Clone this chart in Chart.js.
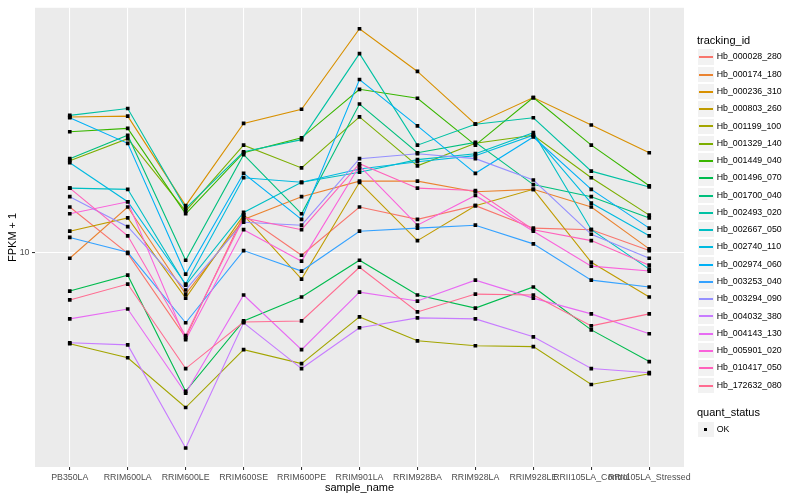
<!DOCTYPE html>
<html>
<head>
<meta charset="utf-8">
<script src="https://cdn.jsdelivr.net/npm/chart.js@4/dist/chart.umd.min.js"></script>
<style>
  body { margin: 0; background: #ffffff; }
  #wrap { position: relative; width: 800px; height: 500px; overflow: hidden; }
  #c { position: absolute; left: 0; top: 0; }
  .lg { position: absolute; font-family: 'Liberation Sans', Arial, Helvetica, sans-serif; color: #000; white-space: nowrap; }
  .ttl { font-size: 11px; line-height: 11px; }
  .itm { font-size: 8.8px; line-height: 17.28px; height: 17.28px; }
  .key { position: absolute; width: 17.28px; height: 17.28px; background: #F2F2F2; box-sizing: border-box; border: 0.5px solid #ffffff; }
  .kl { position: absolute; width: 14px; height: 1.5px; }
</style>
</head>
<body>
<div id="wrap">
  <canvas id="c" width="800" height="500"></canvas>
  <div id="legend"></div>
</div>
<script>
const categories = ["PB350LA","RRIM600LA","RRIM600LE","RRIM600SE","RRIM600PE","RRIM901LA","RRIM928BA","RRIM928LA","RRIM928LE","RRII105LA_Control","RRII105LA_Stressed"];
const trackingIds = ["Hb_000028_280","Hb_000174_180","Hb_000236_310","Hb_000803_260","Hb_001199_100","Hb_001329_140","Hb_001449_040","Hb_001496_070","Hb_001700_040","Hb_002493_020","Hb_002667_050","Hb_002740_110","Hb_002974_060","Hb_003253_040","Hb_003294_090","Hb_004032_380","Hb_004143_130","Hb_005901_020","Hb_010417_050","Hb_172632_080"];
const quantStatus = ["OK"];
const yTicks = [10];

// FPKM + 1 per sample, in the order of `categories`
const Hb_000028_280 = [13.0, 9.94, 6.10, 12.4, 9.83, 13.0, 12.1, 13.1, 11.5, 11.4, 10.1];
const Hb_000174_180 = [9.66, 13.0, 7.85, 12.1, 13.8, 15.1, 15.1, 14.2, 14.4, 13.0, 10.2];
const Hb_000236_310 = [21.9, 22.0, 13.1, 21.1, 22.9, 36.5, 28.5, 21.0, 24.5, 20.9, 17.8];
const Hb_000803_260 = [11.3, 12.2, 7.67, 12.4, 8.56, 15.0, 10.7, 13.1, 14.4, 9.44, 7.72];
const Hb_001199_100 = [5.89, 5.43, 4.07, 5.69, 5.25, 6.88, 5.99, 5.82, 5.79, 4.65, 4.95];
const Hb_001329_140 = [17.0, 19.3, 12.7, 18.6, 16.3, 21.9, 16.5, 18.8, 19.7, 15.4, 12.4];
const Hb_001449_040 = [20.1, 20.5, 12.5, 17.8, 19.4, 25.7, 24.4, 18.6, 24.5, 18.6, 14.7];
const Hb_001496_070 = [7.99, 8.76, 4.47, 6.72, 7.72, 9.55, 7.81, 7.24, 8.18, 6.38, 5.31];
const Hb_001700_040 = [17.2, 19.7, 9.55, 17.6, 12.5, 23.6, 17.8, 18.9, 14.8, 13.8, 12.2];
const Hb_002493_020 = [22.1, 23.0, 12.9, 17.9, 19.2, 31.6, 18.6, 21.0, 21.8, 16.0, 14.6];
const Hb_002667_050 = [14.5, 14.4, 8.27, 12.6, 15.0, 15.9, 17.1, 17.7, 20.0, 11.4, 9.07];
const Hb_002740_110 = [16.8, 13.4, 8.32, 15.4, 15.0, 16.2, 16.9, 17.5, 19.7, 13.3, 11.0];
const Hb_002974_060 = [21.8, 18.8, 8.81, 15.8, 12.1, 27.2, 20.8, 15.8, 19.5, 14.4, 11.5];
const Hb_003253_040 = [10.9, 10.0, 6.65, 10.1, 8.97, 11.3, 11.5, 11.7, 10.5, 8.51, 8.18];
const Hb_003294_090 = [13.8, 11.6, 8.04, 11.9, 11.7, 17.2, 17.7, 17.2, 15.2, 11.1, 9.66];
const Hb_004032_380 = [5.92, 5.85, 3.22, 6.65, 5.10, 6.46, 6.84, 6.80, 6.13, 5.10, 4.98];
const Hb_004143_130 = [6.80, 7.20, 4.42, 7.81, 5.69, 7.94, 7.54, 8.51, 7.67, 7.00, 6.24];
const Hb_005901_020 = [12.5, 13.4, 6.03, 11.4, 9.50, 16.5, 11.7, 13.9, 11.3, 9.23, 8.97];
const Hb_010417_050 = [14.5, 11.0, 6.17, 12.2, 11.4, 16.7, 14.5, 14.3, 11.4, 10.7, 9.28];
const Hb_172632_080 = [7.59, 8.32, 5.10, 6.68, 6.72, 9.17, 7.08, 7.85, 7.81, 6.53, 7.00];

const seriesValues = [Hb_000028_280, Hb_000174_180, Hb_000236_310, Hb_000803_260, Hb_001199_100,
  Hb_001329_140, Hb_001449_040, Hb_001496_070, Hb_001700_040, Hb_002493_020, Hb_002667_050,
  Hb_002740_110, Hb_002974_060, Hb_003253_040, Hb_003294_090, Hb_004032_380, Hb_004143_130,
  Hb_005901_020, Hb_010417_050, Hb_172632_080];

const palette = ["#F8766D","#EA8331","#D89000","#C09B00","#A3A500","#7CAE00","#39B600","#00BB4E","#00BF7D","#00C1A3","#00BFC4","#00BAE0","#00B0F6","#35A2FF","#9590FF","#C77CFF","#E76BF3","#FA62DB","#FF62BC","#FF6C91"];

const FONT = "'Liberation Sans', Arial, Helvetica, sans-serif";

const datasets = [];
seriesValues.forEach((vals, i) => {
  const pts = vals.map((v, j) => ({ x: j, y: v }));
  datasets.push({
    label: trackingIds[i], data: pts, showLine: true,
    borderColor: palette[i], backgroundColor: palette[i], borderWidth: 1.1,
    pointRadius: 0, order: 100 + (seriesValues.length - 1 - i)
  });
  datasets.push({
    label: trackingIds[i] + " " + quantStatus[0], data: pts, showLine: false,
    pointStyle: 'rect', pointRadius: 2.6, pointBackgroundColor: '#000000',
    pointBorderWidth: 0, pointBorderColor: '#000000', order: seriesValues.length - 1 - i
  });
});

const panelBg = {
  id: 'panelBg',
  beforeDraw(chart) {
    const { ctx, chartArea: { left, top, right, bottom } } = chart;
    ctx.save();
    ctx.fillStyle = '#EBEBEB';
    ctx.fillRect(left, top, right - left, bottom - top);
    ctx.restore();
  }
};

new Chart(document.getElementById('c'), {
  type: 'scatter',
  data: { datasets },
  plugins: [panelBg],
  options: {
    responsive: false, animation: false, events: [],
    layout: { padding: { left: 0, top: 5, right: 116, bottom: 0 } },
    plugins: { legend: { display: false }, tooltip: { enabled: false } },
    scales: {
      x: {
        type: 'linear', min: -0.6, max: categories.length - 1 + 0.6,
        afterBuildTicks: (ax) => { ax.ticks = categories.map((c, i) => ({ value: i })); },
        afterFit: (ax) => { ax.height = 33; },
        ticks: {
          autoSkip: false, maxRotation: 0, minRotation: 0, padding: 2,
          color: '#4D4D4D', font: { family: FONT, size: 8.8 },
          callback: (v) => categories[v]
        },
        grid: { color: '#FFFFFF', lineWidth: 1.07, drawTicks: true, tickLength: 3, tickColor: '#333333' },
        border: { display: false },
        title: { display: true, text: 'sample_name', color: '#000000', font: { family: FONT, size: 11 }, padding: { top: 0, bottom: 5.4 } }
      },
      y: {
        type: 'logarithmic', min: 2.884, max: 41.21,
        afterBuildTicks: (ax) => { ax.ticks = yTicks.map(v => ({ value: v })); },
        afterFit: (ax) => { ax.width = 35; },
        ticks: { padding: 2.5, color: '#4D4D4D', font: { family: FONT, size: 8.8 }, callback: (v) => String(v) },
        grid: { color: '#FFFFFF', lineWidth: 1.07, drawTicks: true, tickLength: 3, tickColor: '#333333' },
        border: { display: false },
        title: { display: true, text: 'FPKM + 1', color: '#000000', font: { family: FONT, size: 11 }, padding: { top: 6.4, bottom: 0 } }
      }
    }
  }
});

// ggplot-style legend
const lg = document.getElementById('legend');
function el(cls, css, text) {
  const d = document.createElement('div');
  d.className = cls;
  Object.assign(d.style, css);
  if (text !== undefined) d.textContent = text;
  lg.appendChild(d);
  return d;
}
el('lg ttl', { left: '697px', top: '35.2px' }, 'tracking_id');
trackingIds.forEach((id, i) => {
  const top = 48.4 + i * 17.28;
  el('key', { left: '697.3px', top: top + 'px' });
  el('kl', { left: '699px', top: Math.round(top + 8.64 - 0.75) + 'px', background: palette[i] });
  el('lg itm', { left: '716.7px', top: top + 'px' }, id);
});
el('lg ttl', { left: '697px', top: '406.8px' }, 'quant_status');
el('key', { left: '697.3px', top: '420.7px' });
el('kl', { left: '704px', top: '428px', width: '3.4px', height: '3.4px', background: '#000' });
el('lg itm', { left: '716.7px', top: '420.7px' }, quantStatus[0]);
</script>
</body>
</html>
